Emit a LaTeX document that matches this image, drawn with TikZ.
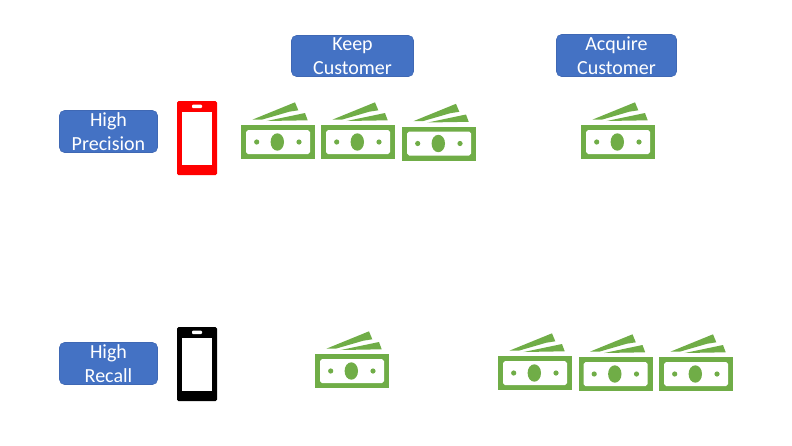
\documentclass[tikz,border=0pt]{standalone}
\usepackage{fontspec}
\setmainfont{Carlito}
\definecolor{boxblue}{HTML}{4472C4}
\definecolor{boxline}{HTML}{3F68B4}
\definecolor{billgreen}{HTML}{70AD47}
\tikzset{
  tag/.style={draw=boxline,line width=0.6pt,fill=boxblue,rounded corners=5pt,text=white,
    align=center,inner sep=0pt,font=\fontsize{20}{24}\selectfont},
  bill/.pic={
    \fill[billgreen] (0,0) rectangle (74,34);
    \fill[white] (7,5) -- (67,5) -- (69,7) -- (69,27) -- (67,29) -- (7,29) -- (5,27) -- (5,7) -- cycle;
    \fill[billgreen] (36.3,17) ellipse (6.7 and 8.7);
    \fill[billgreen] (15.7,17) circle (2.6);
    \fill[billgreen] (58,17) circle (2.6);
    \fill[billgreen] (11.3,-5.3) -- (54,-22.7) -- (57.3,-14.7) -- (48.3,-13.3) -- (20.7,-5.3) -- cycle;
    \fill[billgreen] (25.7,-4) -- (64,-12) -- (66.7,-4.7) -- cycle;
  },
  phone/.pic={
    \fill[pic actions,rounded corners=1.5pt] (0,0) rectangle (40,74);
    \fill[white] (5,11) rectangle (35,64);
    \fill[white,rounded corners=1pt] (15,3.5) rectangle (25,7);
  }
}
\begin{document}
\begin{tikzpicture}[x=1pt,y=-1pt]
\useasboundingbox (0,0) rectangle (792,445);
\path node (keep) at (352.5,56) [tag,minimum width=122pt,minimum height=41pt] {Keep\\Customer}
node (acquire) at (616.5,55.5) [tag,minimum width=120pt,minimum height=42pt] {Acquire\\Customer}
node (precision) at (108.5,131.5) [tag,minimum width=98pt,minimum height=42pt] {High\\Precision}
node (recall) at (108.5,363.5) [tag,minimum width=98pt,minimum height=42pt] {High\\Recall};
% phones
\pic[fill=red] (phoneA) at (177,101) {phone};
\pic[fill=black] (phoneB) at (177,327) {phone};
% top row
\pic (billA) at (241,125) {bill};
\pic (billB) at (321,125) {bill};
\pic (billC) at (402,126.5) {bill};
\pic (billD) at (581,125) {bill};
% bottom row
\pic (billE) at (315,354) {bill};
\pic (billF) at (498,356) {bill};
\pic (billG) at (578.5,357) {bill};
\pic (billH) at (659,357) {bill};
\end{tikzpicture}
\end{document}
